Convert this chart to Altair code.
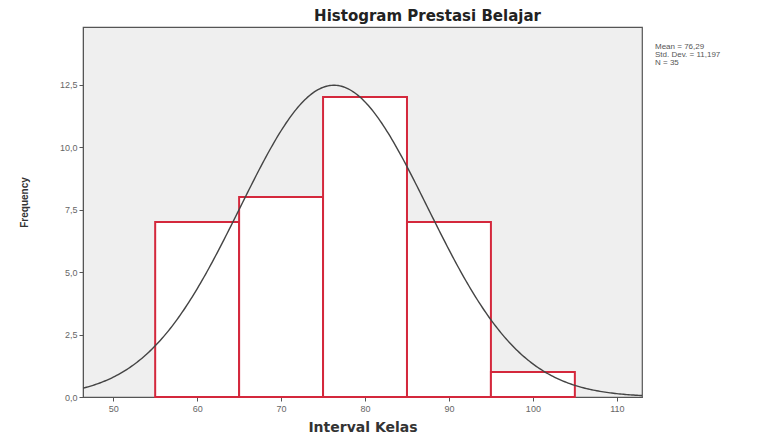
import altair as alt
import pandas as pd

# ---- data ----
bin_start = [55, 65, 75, 85, 95]
bin_end = [65, 75, 85, 95, 105]
counts = [7, 8, 12, 7, 1]

mean_val = 76.29
sd_val = 11.197
n_val = 35
bin_width = 10

stat_lines = ["Mean = 76,29", "Std. Dev. = 11,197", "N = 35"]
x_ticks = [50, 60, 70, 80, 90, 100, 110]
y_ticks = [0, 2.5, 5, 7.5, 10, 12.5]

x_domain = [46.4, 113.0]
y_domain = [0, 14.8]

bars_df = pd.DataFrame({"start": bin_start, "end": bin_end, "count": counts})

comma_fmt = "replace(format(datum.value, '.1f'), '.', ',')"

x_scale = alt.Scale(domain=x_domain, nice=False, zero=False)
y_scale = alt.Scale(domain=y_domain, nice=False)

x_axis = alt.Axis(
    values=x_ticks, title="Interval Kelas", grid=False,
    labelFont="Liberation Sans", labelFontSize=9, labelColor="#666",
    titleFont="DejaVu Sans", titleFontSize=14, titleFontWeight="bold",
    titleColor="#333", titlePadding=7, tickColor="#555", tickSize=4,
    domainColor="#555", labelPadding=3,
)
y_axis = alt.Axis(
    values=y_ticks, title="Frequency", grid=False, labelExpr=comma_fmt,
    labelFont="Liberation Sans", labelFontSize=9, labelColor="#666",
    titleFont="Liberation Sans", titleFontSize=10, titleFontWeight="bold",
    titleColor="#333", titlePadding=30, tickColor="#555", tickSize=4,
    domainColor="#555", titleY=175,
)

bars = alt.Chart(bars_df).mark_rect(
    fill="white", stroke="#d4283c", strokeWidth=2
).encode(
    x=alt.X("start:Q", scale=x_scale, axis=x_axis),
    x2="end:Q",
    y=alt.Y("count:Q", scale=y_scale, axis=y_axis),
    y2=alt.datum(0),
)

curve = alt.Chart(
    alt.sequence(x_domain[0], x_domain[1] + 0.2, 0.2, as_="xv")
).transform_calculate(
    dens=f"{n_val * bin_width} * densityNormal(datum.xv, {mean_val}, {sd_val})"
).mark_line(color="#444", strokeWidth=1.4, clip=True).encode(
    x=alt.X("xv:Q", scale=x_scale),
    y=alt.Y("dens:Q", scale=y_scale),
)

stats = alt.Chart(pd.DataFrame({"k": [0]})).mark_text(
    align="left", baseline="top", font="Liberation Sans", fontSize=8,
    color="#555", lineHeight=8, text=stat_lines,
).encode(
    x=alt.value(572),
    y=alt.value(16),
)

chart = alt.layer(bars, curve, stats).properties(
    width=559, height=370,
    title=alt.TitleParams(
        "Histogram Prestasi Belajar", font="DejaVu Sans", fontSize=15,
        fontWeight="bold", color="#222", anchor="middle", dx=65, offset=3,
    ),
    autosize=alt.AutoSizeParams(type="none"),
    padding={"left": 75, "top": 19, "right": 118, "bottom": 36},
).configure_view(
    fill="#efefef", stroke="#555", strokeWidth=1.2,
)

chart.save("out.html", embed_options={"renderer": "svg", "actions": False})
